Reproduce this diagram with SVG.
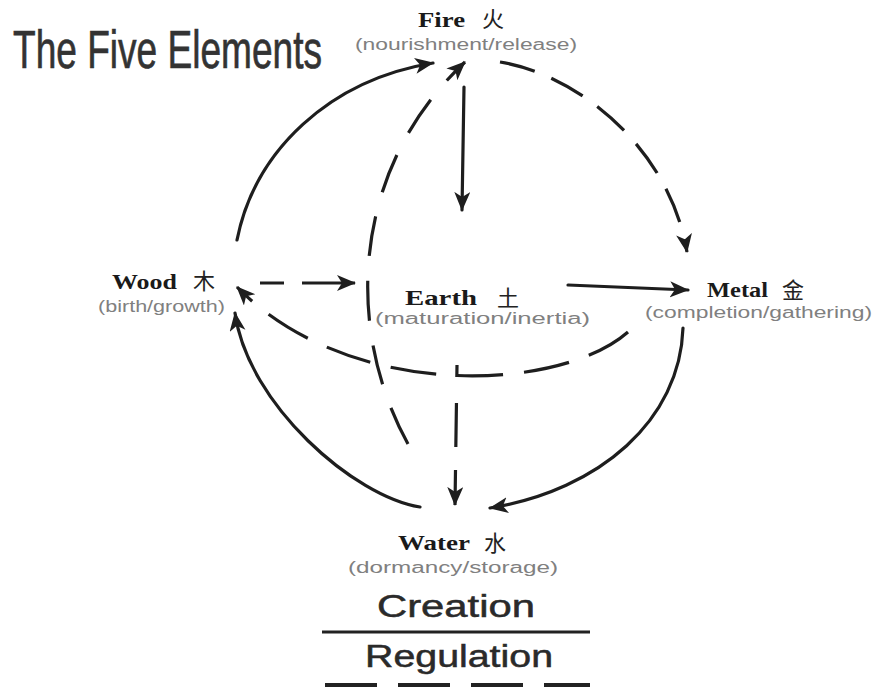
<svg xmlns="http://www.w3.org/2000/svg" width="876" height="689" viewBox="0 0 876 689">
<style>
.lbl{font-family:"Liberation Serif","Noto Serif",serif;font-weight:bold;font-size:22px;fill:#1a1a1a}
.cjk{font-family:"Noto Sans CJK SC","Noto Sans CJK JP",sans-serif;font-size:22px;fill:#222}
.sub{font-family:"Liberation Sans",Arial,sans-serif;font-size:16px;fill:#808080}
.leg{font-family:"Liberation Sans",Arial,sans-serif;font-size:31px;fill:#2a2a2a;stroke:#2a2a2a;stroke-width:0.5}
.ttl{font-family:"Liberation Sans",Arial,sans-serif;font-size:53px;fill:#333;stroke:#333;stroke-width:0.7}
.c{fill:none;stroke:#1e1e1e;stroke-width:3.2;stroke-linecap:round}
.d{fill:none;stroke:#1e1e1e;stroke-width:3.2}
</style>
<defs>
<marker id="ah" markerUnits="userSpaceOnUse" markerWidth="22" markerHeight="18" refX="18" refY="8" orient="auto">
<path d="M0,0 L19,8 L0,16 L5,8 z" fill="#1e1e1e"/>
</marker>
</defs>
<rect width="876" height="689" fill="#fff"/>
<g id="title"><text class="ttl" x="13" y="68" textLength="309" lengthAdjust="spacingAndGlyphs">The Five Elements</text></g>
<g id="fire">
<text class="lbl" x="418" y="27" font-size="21" textLength="47" lengthAdjust="spacingAndGlyphs">Fire</text>
<text class="cjk" x="482" y="27" font-size="21">火</text>
<text class="sub" x="355" y="50" font-size="16" textLength="222" lengthAdjust="spacingAndGlyphs">(nourishment/release)</text>
</g>
<g id="wood">
<text class="lbl" x="112" y="289" textLength="65" lengthAdjust="spacingAndGlyphs">Wood</text>
<text class="cjk" x="193" y="289">木</text>
<text class="sub" x="98" y="312" textLength="127" lengthAdjust="spacingAndGlyphs">(birth/growth)</text>
</g>
<g id="earth">
<text class="lbl" x="405" y="305" textLength="72" lengthAdjust="spacingAndGlyphs">Earth</text>
<text class="cjk" x="497" y="306">土</text>
<text class="sub" x="375" y="324" textLength="215" lengthAdjust="spacingAndGlyphs">(maturation/inertia)</text>
</g>
<g id="metal">
<text class="lbl" x="707" y="297" textLength="61" lengthAdjust="spacingAndGlyphs">Metal</text>
<text class="cjk" x="782" y="298">金</text>
<text class="sub" x="645" y="318" textLength="227" lengthAdjust="spacingAndGlyphs">(completion/gathering)</text>
</g>
<g id="water">
<text class="lbl" x="398" y="550" textLength="72" lengthAdjust="spacingAndGlyphs">Water</text>
<text class="cjk" x="484" y="551">水</text>
<text class="sub" x="348" y="573" textLength="210" lengthAdjust="spacingAndGlyphs">(dormancy/storage)</text>
</g>
<g id="legend">
<text class="leg" x="377" y="617" textLength="158" lengthAdjust="spacingAndGlyphs">Creation</text>
<line x1="322" y1="632" x2="590" y2="632" stroke="#222" stroke-width="3"/>
<text class="leg" x="365" y="667" textLength="188" lengthAdjust="spacingAndGlyphs">Regulation</text>
<line x1="325" y1="685" x2="590" y2="685" stroke="#222" stroke-width="4" stroke-dasharray="52 21"/>
</g>
<g id="connectors">
<path class="c" d="M237,240 C255,150 330,80 433,63" marker-end="url(#ah)"/>
<path class="d" d="M500,62 C580,75 670,150 687,252" stroke-dasharray="36 18" marker-end="url(#ah)"/>
<path class="c" d="M683,328 C680,420 600,490 490,508" marker-end="url(#ah)"/>
<path class="c" d="M420,507 C355,497 248,405 235,313" marker-end="url(#ah)"/>
<path class="d" d="M408,444 C345,330 350,170 465,62" stroke-dasharray="40 25" marker-end="url(#ah)"/>
<path class="c" d="M464,87 L462,210" marker-end="url(#ah)"/>
<path class="c" d="M568,285 L688,290" marker-end="url(#ah)"/>
<path class="d" d="M260,283 L355,283" stroke-dasharray="24 18 60" marker-end="url(#ah)"/>
<path class="d" d="M628,332 C560,392 350,402 237,287" stroke-dasharray="46 21" marker-end="url(#ah)"/>
<path class="d" d="M457,365 L455,505" stroke-dasharray="12 26 44 23 40" marker-end="url(#ah)"/>
</g>
</svg>
